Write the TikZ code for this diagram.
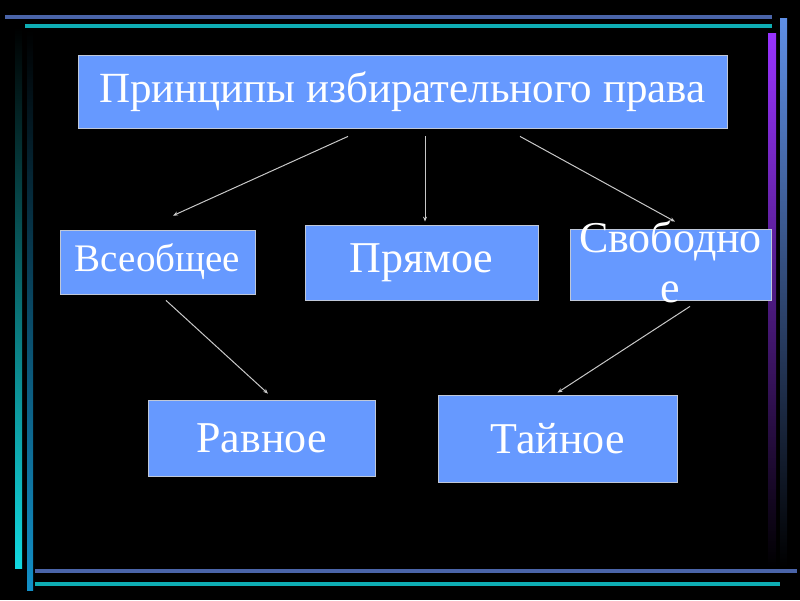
\documentclass[tikz,border=0pt]{standalone}
\usepackage{fontspec}
\setmainfont{Liberation Serif}
\usepackage{xcolor}
\usetikzlibrary{arrows.meta}
\definecolor{boxblue}{HTML}{6699FF}
\definecolor{rimgray}{HTML}{C0C8D8}
\definecolor{arrowgray}{HTML}{C8C8C8}
\definecolor{barblue}{HTML}{4A64A8}
\definecolor{barcyan}{HTML}{12D8E0}
\definecolor{barsky}{HTML}{1290C8}
\definecolor{barviolet}{HTML}{9933FF}
\definecolor{barsteel}{HTML}{5F8FE6}

\begin{document}
\begin{tikzpicture}[x=1pt, y=-1pt,
  box/.style={draw=rimgray, line width=0.8pt, fill=boxblue, text=white,
              inner sep=0pt, align=center, font=\fontsize{44}{50}\selectfont},
  head/.style={box, font=\fontsize{43}{48}\selectfont},
  small/.style={box, font=\fontsize{39}{44}\selectfont},
  boxtext/.style={text=white, inner sep=0pt, align=center, font=\fontsize{44}{50}\selectfont},
  ar/.style={-{Stealth[length=5pt, width=4pt]}, line width=1pt, draw=arrowgray}
]
  % background and frame bars
  \fill[black] (0,0) rectangle (800,600);
  \useasboundingbox (0,0) rectangle (800,600);
  \fill[barblue] (5,15) rectangle (772,19);
  \fill[barcyan!80!black] (25,24) rectangle (772,28);
  \fill[barblue] (35,569) rectangle (797,573);
  \fill[barcyan!80!black] (35,582) rectangle (780,586);
  \shade[top color=black, bottom color=barcyan] (15,27) rectangle (22,568);
  \shade[top color=black, bottom color=barsky] (27,30) rectangle (33,590);
  \shade[top color=barviolet, bottom color=black] (768,33) rectangle (776,567);
  \shade[top color=barsteel, bottom color=black] (780,18) rectangle (787,567);

  % boxes
  \node[head, minimum width=649pt, minimum height=73pt] (prin) at (402.5,91.5)
    {Принципы избирательного права};
  \node[small, minimum width=195pt, minimum height=64pt] (vseob) at (157.5,262) {Всеобщее};
  \node[box, minimum width=233pt, minimum height=75pt] (pryam) at (421.5,262.5) {Прямое};
  \node[box, minimum width=201pt, minimum height=71pt] (svob) at (670.5,264.5) {};
  \node[boxtext, text width=201pt] (svobtxt) at ([yshift=2.5pt]svob.center) {Свободно\\[0pt]е};
  \node[box, minimum width=227pt, minimum height=76pt] (ravn) at (261.5,438) {Равное};
  \node[box, minimum width=239pt, minimum height=87pt] (tain) at (557.5,438.5) {Тайное};

  % arrows
  \draw[ar] ([xshift=-54.5pt, yshift=-8pt]prin.south) -- ([xshift=15.5pt, yshift=14pt]vseob.north);
  \draw[ar] ([xshift=22.5pt, yshift=-8pt]prin.south) -- ([xshift=3.5pt, yshift=3pt]pryam.north);
  \draw[ar] ([xshift=117.5pt, yshift=-8pt]prin.south) -- ([xshift=4.5pt, yshift=7pt]svob.north);
  \draw[ar] ([xshift=8.5pt, yshift=-6pt]vseob.south) -- ([xshift=6.5pt, yshift=6pt]ravn.north);
  \draw[ar] ([xshift=19.5pt, yshift=-6pt]svob.south) -- ([yshift=2pt]tain.north);
\end{tikzpicture}
\end{document}
